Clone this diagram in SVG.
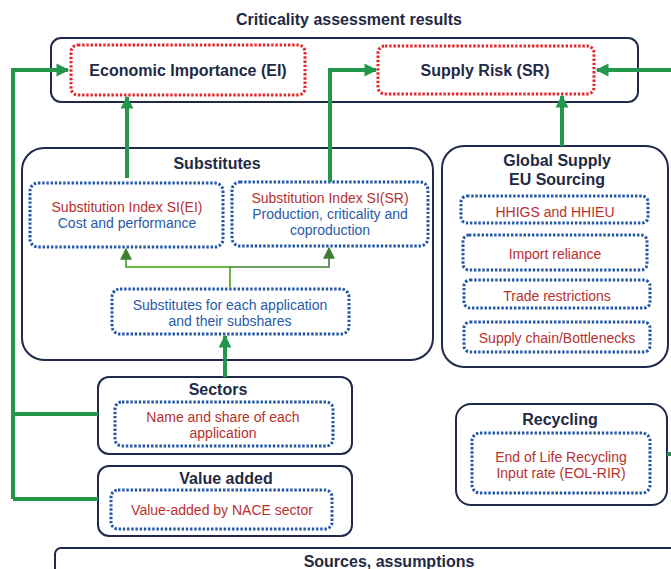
<svg xmlns="http://www.w3.org/2000/svg" width="671" height="569" viewBox="0 0 671 569">
<style>
text{font-family:"Liberation Sans",Arial,sans-serif;text-anchor:middle}
.ttl{font-weight:bold;fill:#1f2a44;font-size:16px}
.hd{font-weight:bold;fill:#1f2a44;font-size:16px}
.red{fill:#b8312f;font-size:14px}
.blue{fill:#2a5aa8;font-size:14px}
.frame{fill:#fff;stroke:#1f2a4a;stroke-width:2}
.dred{fill:none;stroke:#e8262a;stroke-width:3;stroke-dasharray:2.4 1.8}
.dblue{fill:none;stroke:#2358a6;stroke-width:3;stroke-dasharray:2.4 1.8}
.thick{fill:none;stroke:#23984a;stroke-width:4}
.thinL{fill:none;stroke:#6ab54a;stroke-width:2}
.thinD{fill:none;stroke:#3f7e33;stroke-width:1.6}
</style>
<defs>
<marker id="ah" viewBox="0 0 10 10" refX="9" refY="5" markerWidth="3.2" markerHeight="3.4" orient="auto" markerUnits="strokeWidth">
<path d="M0,0 L10,5 L0,10 z" fill="#23984a"/>
</marker>
<marker id="ahL" viewBox="0 0 10 10" refX="9" refY="5" markerWidth="6" markerHeight="6" orient="auto" markerUnits="strokeWidth">
<path d="M0,0 L10,5 L0,10 z" fill="#3f7e33"/>
</marker>
<marker id="ahD" viewBox="0 0 10 10" refX="9" refY="5" markerWidth="7.5" markerHeight="7.5" orient="auto" markerUnits="strokeWidth">
<path d="M0,0 L10,5 L0,10 z" fill="#3f7e33"/>
</marker>
</defs>
<rect width="671" height="569" fill="#fff"/>

<text class="ttl" x="349" y="25">Criticality assessment results</text>

<g id="results">
<rect class="frame" x="51" y="38" width="587" height="64" rx="10"/>
</g>
<g id="ei">
<rect class="dred" x="71" y="45" width="234" height="50" rx="7"/>
<text class="hd" x="188" y="76">Economic Importance (EI)</text>
</g>
<g id="sr">
<rect class="dred" x="378" y="46" width="216" height="48" rx="7"/>
<text class="hd" x="485" y="76">Supply Risk (SR)</text>
</g>

<g id="substitutes">
<rect class="frame" x="22" y="148" width="411" height="212" rx="22"/>
<text class="hd" x="217" y="169">Substitutes</text>
<g id="si-ei">
<rect class="dblue" x="30" y="183" width="193" height="64" rx="8"/>
<text class="red" x="127" y="212">Substitution Index SI(EI)</text>
<text class="blue" x="127" y="228">Cost and performance</text>
</g>
<g id="si-sr">
<rect class="dblue" x="232" y="182" width="196" height="64" rx="8"/>
<text class="red" x="330" y="203">Substitution Index SI(SR)</text>
<text class="blue" x="330" y="219">Production, criticality and</text>
<text class="blue" x="330" y="235">coproduction</text>
</g>
<g id="subs-app">
<rect class="dblue" x="112" y="289" width="237" height="45" rx="8"/>
<text class="blue" x="230" y="310">Substitutes for each application</text>
<text class="blue" x="230" y="326">and their subshares</text>
</g>
</g>

<g id="global-supply">
<rect class="frame" x="442" y="146" width="226" height="221" rx="22"/>
<text class="hd" x="557" y="166">Global Supply</text>
<text class="hd" x="557" y="185">EU Sourcing</text>
<g id="hhi">
<rect class="dblue" x="461" y="196" width="187" height="27" rx="6"/>
<text class="red" x="555" y="217">HHIGS and HHIEU</text>
</g>
<g id="import">
<rect class="dblue" x="463" y="235" width="184" height="35" rx="6"/>
<text class="red" x="555" y="259">Import reliance</text>
</g>
<g id="trade">
<rect class="dblue" x="464" y="280" width="186" height="28" rx="6"/>
<text class="red" x="557" y="301">Trade restrictions</text>
</g>
<g id="chain">
<rect class="dblue" x="464" y="322" width="186" height="30" rx="6"/>
<text class="red" x="557" y="343">Supply chain/Bottlenecks</text>
</g>
</g>

<g id="sectors">
<rect class="frame" x="98" y="377" width="254" height="77" rx="11"/>
<text class="hd" x="218" y="395">Sectors</text>
<rect class="dblue" x="115" y="402" width="218" height="44" rx="7"/>
<text class="red" x="223" y="422">Name and share of each</text>
<text class="red" x="223" y="438">application</text>
</g>

<g id="value-added">
<rect class="frame" x="98" y="466" width="254" height="70" rx="11"/>
<text class="hd" x="226" y="484">Value added</text>
<rect class="dblue" x="111" y="490" width="221" height="39" rx="7"/>
<text class="red" x="222" y="515">Value-added by NACE sector</text>
</g>

<g id="recycling">
<rect class="frame" x="456" y="404" width="211" height="101" rx="15"/>
<text class="hd" x="560" y="425">Recycling</text>
<rect class="dblue" x="472" y="433" width="178" height="60" rx="8"/>
<text class="red" x="561" y="462">End of Life Recycling</text>
<text class="red" x="561" y="478">Input rate (EOL-RIR)</text>
</g>

<g id="sources">
<rect class="frame" x="55" y="548" width="630" height="40" rx="6"/>
<text class="hd" x="389" y="567">Sources, assumptions</text>
</g>

<g id="connectors">
<path class="thick" d="M13,499 L13,70 L68,70" marker-end="url(#ah)"/>
<path class="thick" d="M13,414 L98,414"/>
<path class="thick" d="M13,499 L98,499"/>
<path class="thick" d="M127,178 L127,97" marker-end="url(#ah)"/>
<path class="thick" d="M330,182 L330,70 L376,70" marker-end="url(#ah)"/>
<path class="thick" d="M671,70 L597,70" marker-end="url(#ah)"/>
<path class="thick" d="M562,146 L562,96" marker-end="url(#ah)"/>
<path class="thick" d="M225,377 L225,336" marker-end="url(#ah)"/>
<path class="thick" d="M667,454 L671,454"/>
<path class="thinL" d="M230,288 L230,267 L126,267 L126,249" marker-end="url(#ahL)"/>
<path class="thinD" d="M230,267 L329,267 L329,248" marker-end="url(#ahD)"/>
</g>
</svg>
